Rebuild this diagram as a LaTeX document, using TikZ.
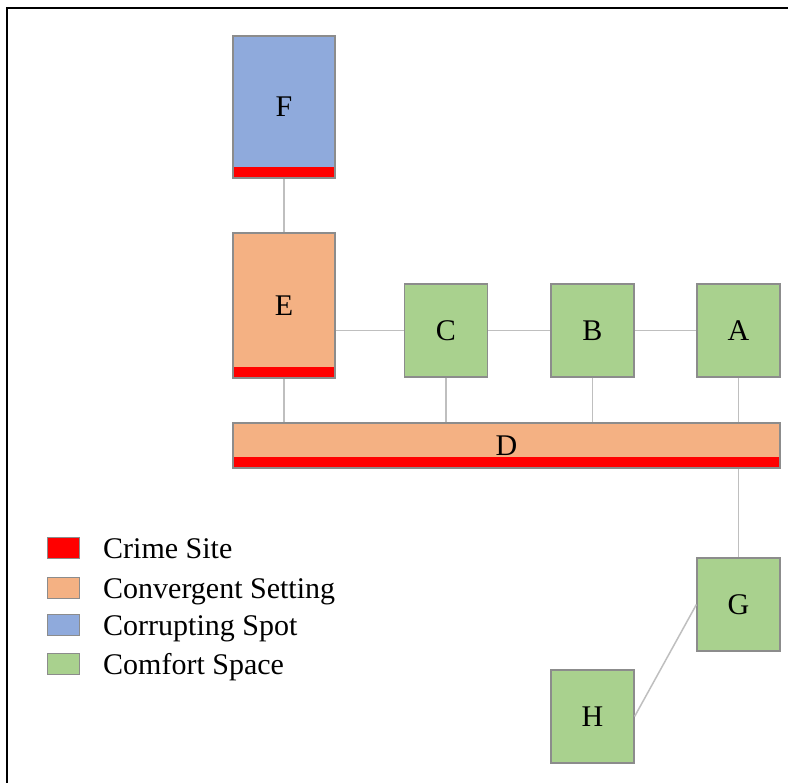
\documentclass[tikz,border=0pt]{standalone}
\usepackage{fontspec}
\setmainfont{Liberation Serif}
\definecolor{cgreen}{HTML}{A9D18E}
\definecolor{corange}{HTML}{F4B183}
\definecolor{cblue}{HTML}{8FAADC}
\definecolor{cred}{HTML}{FF0000}
\definecolor{cedge}{HTML}{8C8C8C}
\definecolor{clink}{HTML}{BFBFBF}
\tikzset{
  box/.style={draw=cedge, line width=1.2pt, inner sep=0pt, font=\fontsize{30}{34}\selectfont},
  greenbox/.style={box, fill=cgreen, minimum width=83pt, minimum height=93pt},
  crime/.style={path picture={\fill[cred] (path picture bounding box.south west) rectangle ([yshift=11pt]path picture bounding box.south east);}},
  link/.style={draw=clink, line width=1.5pt},
  legsq/.style={draw=cedge, line width=1pt, minimum width=32pt, minimum height=21pt, inner sep=0pt},
  legtxt/.style={anchor=base west, inner sep=0pt, font=\fontsize{30}{34}\selectfont}
}
\begin{document}
\begin{tikzpicture}[x=1pt,y=-1pt]
\useasboundingbox (0,0) rectangle (788,783);
\fill[white] (0,0) rectangle (788,783);
\draw[black, line width=2.2pt] (7,783) -- (7,8) -- (788,8);
% nodes
\node[box, fill=cblue, crime, minimum width=102pt, minimum height=142pt] (F) at (284,107) {F};
\node[box, fill=corange, crime, minimum width=102pt, minimum height=145pt] (E) at (284,305.5) {E};
\node[greenbox] (C) at (446,330.5) {C};
\node[greenbox] (B) at (592.5,330.5) {B};
\node[greenbox] (A) at (738.5,330.5) {A};
\node[box, fill=corange, crime, minimum width=547pt, minimum height=45pt] (D) at (506.5,445.5) {D};
\node[greenbox] (G) at (738.5,604.5) {G};
\node[greenbox] (H) at (592.5,716.5) {H};
% connectors
\draw[link] (F.south) -- (E.north);
\draw[link] (C.west) -- (C.west -| E.east);
\draw[link] (C.east) -- (B.west);
\draw[link] (B.east) -- (A.west);
\draw[link] (E.south) -- (E.south |- D.north);
\draw[link] (C.south) -- (C.south |- D.north);
\draw[link] (B.south) -- (B.south |- D.north);
\draw[link] (A.south) -- (A.south |- D.north);
\draw[link] (D.south -| G.north) -- (G.north);
\draw[link] (H.east) -- (G.west);
% legend
\node[legsq, fill=cred] (l1) at (63,548.5) {};
\node[legsq, fill=corange] (l2) at (63,588) {};
\node[legsq, fill=cblue] (l3) at (63,625.5) {};
\node[legsq, fill=cgreen] (l4) at (63,663.5) {};
\node[legtxt] (t1) at (103,559) {Crime Site};
\node[legtxt] (t2) at (103,598) {Convergent Setting};
\node[legtxt] (t3) at (103,636) {Corrupting Spot};
\node[legtxt] (t4) at (103,674) {Comfort Space};
\end{tikzpicture}
\end{document}
